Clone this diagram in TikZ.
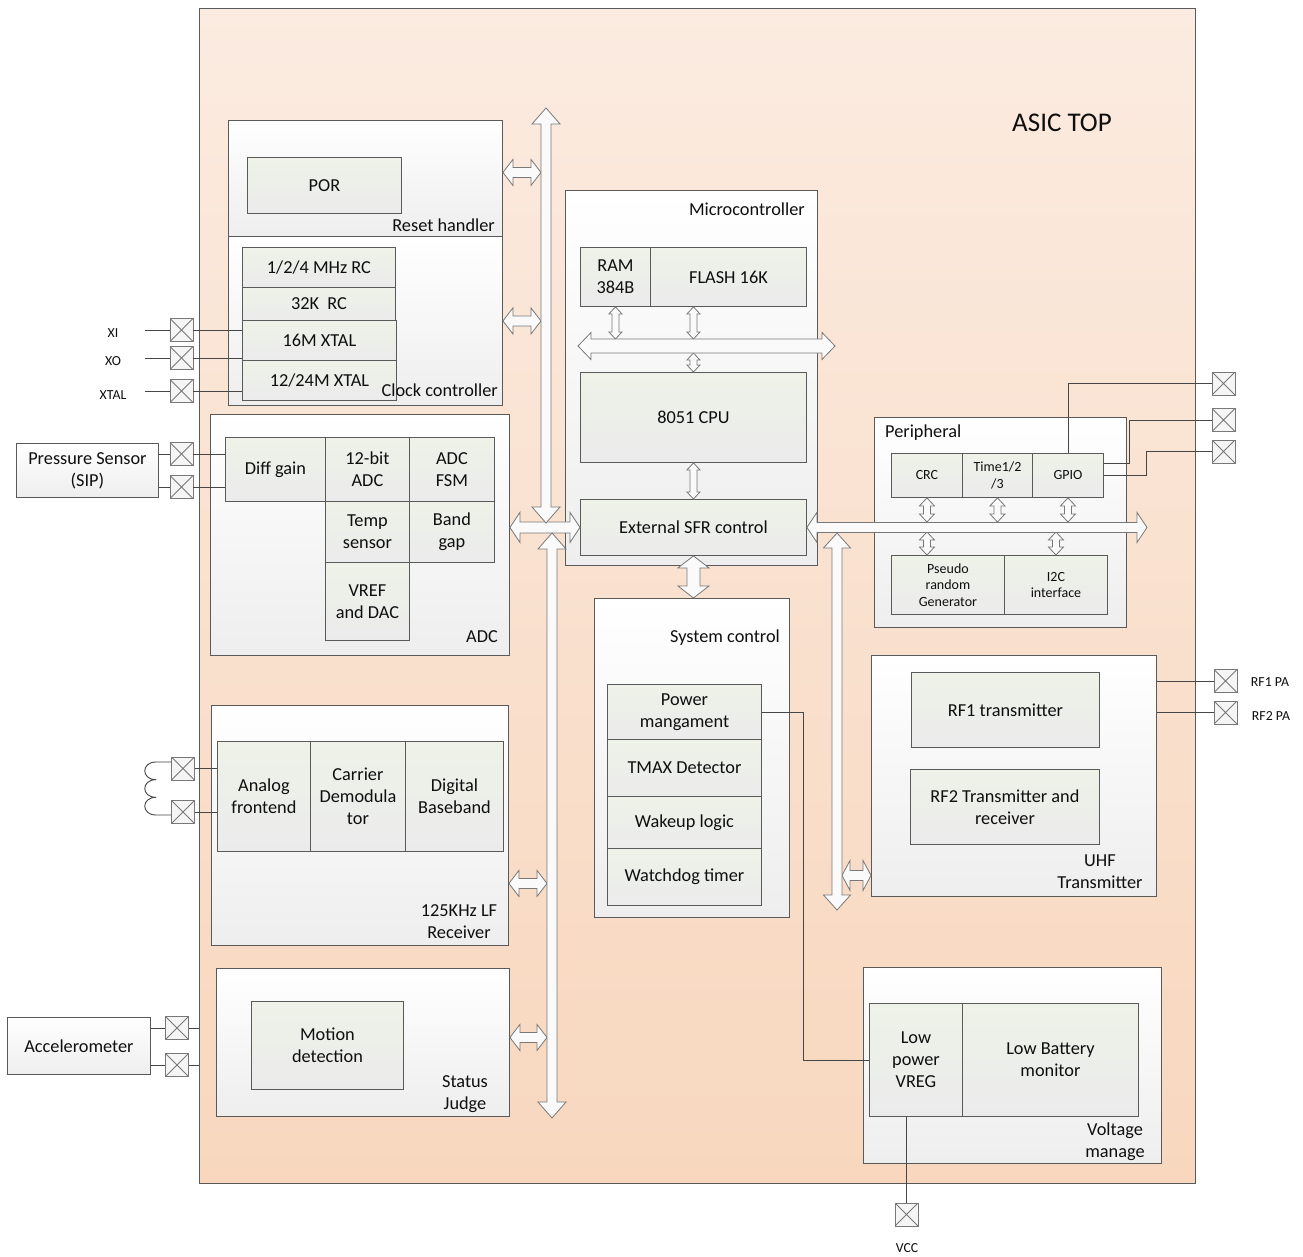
\documentclass[tikz,border=0pt]{standalone}
\usepackage{fontspec}
\setmainfont{Carlito}
\usetikzlibrary{calc}
\definecolor{txt}{RGB}{15,15,15}
\definecolor{bord}{RGB}{90,90,90}
\definecolor{asicT}{RGB}{251,235,224}
\definecolor{asicB}{RGB}{248,215,190}
\definecolor{subT}{RGB}{238,242,232}
\definecolor{subB}{RGB}{235,235,235}
\definecolor{contB}{RGB}{238,238,238}
\definecolor{wirec}{RGB}{70,70,70}
\definecolor{padc}{RGB}{120,120,120}
\newcommand\fmain{\fontsize{18.3}{22}\selectfont}
\newcommand\fsmall{\fontsize{14}{16.5}\selectfont}
\newcommand\fpin{\fontsize{13.8}{15}\selectfont}
\newcommand\rect[7]{\node[#1, anchor=north west, minimum width={(#5-#3)*1pt}, minimum height={(#6-#4)*1pt}] (#2) at (#3,#4) {#7};}
% horizontal double block arrow: from, to, shaft half, head half, head length
\newcommand\hba[5]{\path[barrow] let \p1=#1, \p2=#2 in
  (\x1,\y1) -- (\x1+#5pt,\y1+#4pt) -- (\x1+#5pt,\y1+#3pt) -- (\x2-#5pt,\y1+#3pt) -- (\x2-#5pt,\y1+#4pt)
  -- (\x2,\y1) -- (\x2-#5pt,\y1-#4pt) -- (\x2-#5pt,\y1-#3pt) -- (\x1+#5pt,\y1-#3pt) -- (\x1+#5pt,\y1-#4pt) -- cycle;}
% vertical double block arrow: from (top), to (bottom)
\newcommand\vba[5]{\path[barrow] let \p1=#1, \p2=#2 in
  (\x1,\y1) -- (\x1+#4pt,\y1-#5pt) -- (\x1+#3pt,\y1-#5pt) -- (\x1+#3pt,\y2+#5pt) -- (\x1+#4pt,\y2+#5pt)
  -- (\x1,\y2) -- (\x1-#4pt,\y2+#5pt) -- (\x1-#3pt,\y2+#5pt) -- (\x1-#3pt,\y1-#5pt) -- (\x1-#4pt,\y1-#5pt) -- cycle;}
\tikzset{
  asicbox/.style={draw=bord, line width=0.9pt, top color=asicT, bottom color=asicB, inner sep=0pt},
  cont/.style={draw=bord, line width=0.9pt, top color=white, bottom color=contB, inner sep=0pt},
  sub/.style={draw=bord, line width=0.9pt, top color=subT, bottom color=subB, inner sep=0pt, text=txt, align=center, font=\fmain},
  subsm/.style={sub, font=\fsmall},
  ext/.style={draw=bord, line width=0.9pt, top color=white, bottom color=contB, inner sep=0pt, text=txt, align=center, font=\fmain},
  lbl/.style={inner sep=0pt, text=txt, align=center, font=\fmain},
  pinlbl/.style={inner sep=0pt, text=txt, font=\fpin},
  padbox/.style={draw=padc, line width=0.8pt, fill=gray!8, minimum size=23pt, inner sep=0pt,
    path picture={\draw[padc, line width=0.8pt] (path picture bounding box.north west) -- (path picture bounding box.south east)
      (path picture bounding box.north east) -- (path picture bounding box.south west);}},
  wire/.style={draw=wirec, line width=0.9pt},
  barrow/.style={draw=padc, line width=0.8pt, fill=white!96!gray}
}
\begin{document}
\begin{tikzpicture}[x=1pt,y=-1pt]
\useasboundingbox (0,0) rectangle (1303,1257);
\fill[white] (0,0) rectangle (1303,1257);
% ASIC
\rect{asicbox}{asic}{199}{8}{1195}{1183}{}
\node[lbl, font=\fontsize{27}{30}\selectfont] (asiclbl) at (1062,123) {ASIC TOP};

% Reset handler
\rect{cont}{reset}{228}{120}{502}{236}{}
\rect{sub}{por}{247}{157}{401}{213}{POR}
\node[lbl, anchor=east] (rstlbl) at (495,225) {Reset handler};
% Clock controller
\rect{cont}{clock}{228}{236}{502}{405}{}
\rect{sub}{rc1}{242}{247}{395}{287}{1/2/4 MHz RC}
\rect{sub}{rc2}{242}{287}{395}{320}{32K\ \ RC}
\rect{sub}{x16}{242}{320}{396}{360}{16M XTAL}
\rect{sub}{x12}{242}{360}{396}{400}{12/24M XTAL}
\node[lbl, anchor=east] (clklbl) at (498,390) {Clock controller};

% ADC
\rect{cont}{adc}{210}{414}{509}{655}{}
\rect{sub}{diff}{225}{437}{325}{501}{Diff gain}
\rect{sub}{a12}{325}{437}{409}{501}{12-bit\\ADC}
\rect{sub}{fsm}{409}{437}{494}{501}{ADC\\FSM}
\rect{sub}{temp}{325}{501}{409}{562}{Temp\\sensor}
\rect{sub}{bgap}{409}{501}{494}{562}{Band\\gap}
\rect{sub}{vref}{325}{562}{409}{640}{VREF\\and DAC}
\node[lbl, anchor=east] (adclbl) at (498,637) {ADC};

% LF receiver
\rect{cont}{lf}{211}{705}{508}{945}{}
\rect{sub}{afe}{217}{741}{310}{851}{Analog\\frontend}
\rect{sub}{cdem}{310}{741}{405}{851}{Carrier\\Demodula\\tor}
\rect{sub}{dbb}{405}{741}{503}{851}{Digital\\Baseband}
\node[lbl] (lflbl) at (459,922) {125KHz LF\\Receiver};

% Status judge
\rect{cont}{stat}{216}{968}{509}{1116}{}
\rect{sub}{motion}{251}{1001}{403}{1089}{Motion\\detection}
\node[lbl] (statlbl) at (465,1094) {Status\\Judge};

% Microcontroller
\rect{cont}{mcu}{565}{190}{817}{565}{}
\node[lbl, anchor=east] (mculbl) at (805,209) {Microcontroller};
\rect{sub}{ram}{580}{247}{650}{306}{RAM\\384B}
\rect{sub}{flash}{650}{247}{806}{306}{FLASH 16K}
\rect{sub}{cpu}{580}{372}{806}{462}{8051 CPU}
\rect{sub}{sfr}{580}{499}{806}{555}{External SFR control}

% System control
\rect{cont}{sys}{594}{598}{789}{917}{}
\node[lbl] (syslbl) at (725,638) {System control};
\rect{sub}{pm}{607}{684}{761}{739}{Power\\mangament}
\rect{sub}{tmax}{607}{739}{761}{796}{TMAX Detector}
\rect{sub}{wake}{607}{796}{761}{848}{Wakeup logic}
\rect{sub}{wdt}{607}{848}{761}{905}{Watchdog timer}

% Peripheral
\rect{cont}{peri}{874}{417}{1126}{627}{}
\node[lbl, anchor=west] (perilbl) at (885,433) {Peripheral};
\rect{subsm}{crc}{891}{453}{962}{497}{CRC}
\rect{subsm}{tim}{962}{453}{1032}{497}{Time1/2\\/3}
\rect{subsm}{gpio}{1032}{453}{1103}{497}{GPIO}
\rect{subsm}{prg}{891}{555}{1004}{614}{Pseudo\\random\\Generator}
\rect{subsm}{i2c}{1004}{555}{1107}{614}{I2C\\interface}

% UHF
\rect{cont}{uhf}{871}{655}{1156}{896}{}
\rect{sub}{rf1}{911}{672}{1099}{747}{RF1 transmitter}
\rect{sub}{rf2}{910}{769}{1099}{844}{RF2 Transmitter and\\receiver}
\node[lbl] (uhflbl) at (1100,872) {UHF\\Transmitter};

% Voltage manage
\rect{cont}{volt}{863}{967}{1161}{1163}{}
\rect{sub}{vreg}{869}{1003}{962}{1116}{Low\\power\\VREG}
\rect{sub}{lbm}{962}{1003}{1138}{1116}{Low Battery\\monitor}
\node[lbl] (voltlbl) at (1115,1142) {Voltage\\manage};

% External blocks
\rect{ext}{psens}{16}{443}{158}{497}{Pressure Sensor\\(SIP)}
\rect{ext}{accel}{7}{1017}{150}{1074}{Accelerometer}

% Pads
\node[padbox] (pxi) at (181.5,330) {};
\node[padbox] (pxo) at (181.5,358) {};
\node[padbox] (pxt) at (181.5,391) {};
\node[padbox] (pp1) at (181.5,454) {};
\node[padbox] (pp2) at (181.5,487) {};
\node[padbox] (plf1) at (183,768.5) {};
\node[padbox] (plf2) at (183,812) {};
\node[padbox] (pa1) at (177,1028) {};
\node[padbox] (pa2) at (177,1065) {};
\node[padbox] (pg1) at (1223.5,383.5) {};
\node[padbox] (pg2) at (1223.5,420) {};
\node[padbox] (pg3) at (1223.5,451.5) {};
\node[padbox] (prf1) at (1225.5,681) {};
\node[padbox] (prf2) at (1225.5,712.5) {};
\node[padbox] (pvcc) at (906.5,1214.5) {};

% Pad labels
\node[pinlbl] (lxi) at (113,333) {XI};
\node[pinlbl] (lxo) at (113,361) {XO};
\node[pinlbl] (lxt) at (113,395) {XTAL};
\node[pinlbl] (lrf1) at (1270,682) {RF1 PA};
\node[pinlbl] (lrf2) at (1271,716) {RF2 PA};
\node[pinlbl] (lvcc) at (907,1248) {VCC};

% Wires
\coordinate (xiend) at (145,330);
\coordinate (xoend) at (145,358);
\coordinate (xtend) at (145,391);
\draw[wire] (xiend) -- (pxi.west);
\draw[wire] (xoend) -- (pxo.west);
\draw[wire] (xtend) -- (pxt.west);
\draw[wire] (pxi.east) -- (pxi.east -| x16.west);
\draw[wire] (pxo.east) -- (pxo.east -| x16.west);
\draw[wire] (pxt.east) -- (pxt.east -| x12.west);
\draw[wire] (psens.east |- pp1) -- (pp1.west);
\draw[wire] (psens.east |- pp2) -- (pp2.west);
\draw[wire] (pp1.east) -- (pp1.east -| diff.west);
\draw[wire] (pp2.east) -- (pp2.east -| diff.west);
\draw[wire] (accel.east |- pa1) -- (pa1.west);
\draw[wire] (accel.east |- pa2) -- (pa2.west);
\draw[wire] (pa1.east) -- (pa1.east -| asic.west);
\draw[wire] (pa2.east) -- (pa2.east -| asic.west);
\draw[wire] (plf1.east) -- (plf1.east -| afe.west);
\draw[wire] (plf2.east) -- (plf2.east -| afe.west);
% coil
\coordinate (coilT) at (156,762);
\coordinate (coilB) at (156,815);
\draw[wire] (plf1.west |- coilT) -- (coilT)
  .. controls (141,762) and (141,779.67) .. (156,779.67)
  .. controls (141,779.67) and (141,797.33) .. (156,797.33)
  .. controls (141,797.33) and (141,815) .. (coilB) -- (plf2.west |- coilB);
% GPIO wires
\coordinate (g2x) at (1129,0);
\coordinate (g3x) at (1146,0);
\coordinate (g2s) at ($(gpio.east)+(0,-12)$);
\draw[wire] (gpio.north) -- (gpio.north |- pg1.west) -- (pg1.west);
\draw[wire] (g2s) -- (g2s -| g2x) -- (g2x |- pg2.west) -- (pg2.west);
\draw[wire] (gpio.east) -- (gpio.east -| g3x) -- (g3x |- pg3.west) -- (pg3.west);
% RF wires
\draw[wire] (prf1.west -| uhf.east) -- (prf1.west);
\draw[wire] (prf2.west -| uhf.east) -- (prf2.west);
% power management to VREG
\coordinate (pmx) at (803,0);
\draw[wire] (pm.east) -- (pm.east -| pmx) -- (pmx |- vreg.west) -- (vreg.west);
% VCC
\coordinate (vccx) at (906.5,0);
\draw[wire] (vreg.south -| vccx) -- (pvcc.north);

% Bus coordinates
\coordinate (busAtop) at (546,108);
\coordinate (busAbot) at (546,523);
\coordinate (busAedge) at (541,0);
\coordinate (busBtop) at (552,533);
\coordinate (busBbot) at (552,1118);
\coordinate (busBedge) at (547,0);
\coordinate (busCtop) at (837,533);
\coordinate (busCbot) at (837,910);
\coordinate (busCedge) at (842,0);
\coordinate (busRend) at (1147,0);
\coordinate (mbL) at (578,346);
\coordinate (mbR) at (835,346);
\coordinate (mbTop) at (0,339);
\coordinate (mbBot) at (0,353);
\coordinate (rbTop) at (0,522);
\coordinate (rbBot) at (0,532);

% Block arrows
\coordinate (rstP) at ($(reset.east)+(0,-6)$);
\hba{(rstP)}{(rstP -| busAedge)}{5}{13}{10}
\hba{(clock.east)}{(clock.east -| busAedge)}{5}{13}{10}
\hba{(sfr.west -| adc.east)}{(sfr.west)}{5.5}{15}{10}
\coordinate (lfP) at ($(lf.east)+(0,58)$);
\hba{(lfP)}{(lfP -| busBedge)}{5}{13}{10}
\coordinate (stP) at ($(stat.east)+(0,-5)$);
\hba{(stP)}{(stP -| busBedge)}{5}{13}{10}
\coordinate (uhfP) at ($(uhf.west)+(0,99.5)$);
\hba{(uhfP -| busCedge)}{(uhfP)}{5}{15}{8}
\vba{(sfr.south)}{(sfr.south |- sys.north)}{6.5}{15.5}{12}
% micro internal
\vba{(ram.south)}{(ram.south |- mbTop)}{3.5}{6.5}{7}
\vba{(cpu.north |- flash.south)}{(cpu.north |- mbTop)}{3.5}{6.5}{7}
\vba{(cpu.north |- mbBot)}{(cpu.north)}{3.5}{6.5}{7}
\vba{(cpu.south)}{(sfr.north)}{3.5}{6.5}{7}
\hba{(mbL)}{(mbR)}{7}{13.5}{13}
% peripheral internal
\vba{(crc.south)}{(crc.south |- rbTop)}{3.5}{7.5}{8}
\vba{(tim.south)}{(tim.south |- rbTop)}{3.5}{7.5}{8}
\vba{(gpio.south)}{(gpio.south |- rbTop)}{3.5}{7.5}{8}
\vba{(crc.south |- rbBot)}{(crc.south |- prg.north)}{3.5}{7.5}{8}
\vba{(i2c.north |- rbBot)}{(i2c.north)}{3.5}{7.5}{8}
% buses
\hba{(sfr.east)}{(sfr.east -| busRend)}{5}{15}{10}
\vba{(busAtop)}{(busAbot)}{5}{14}{16}
\vba{(busBtop)}{(busBbot)}{5}{14}{16}
\vba{(busCtop)}{(busCbot)}{5}{13.5}{15}
\end{tikzpicture}
\end{document}
